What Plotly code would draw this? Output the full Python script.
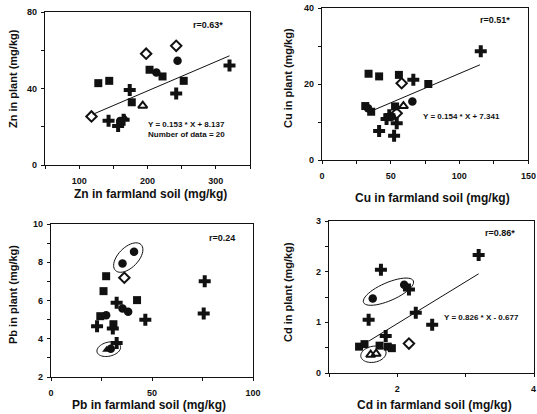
import math
import plotly.graph_objects as go

W, H = 537, 414

# ---------------- data ----------------
# groups: A = filled square, B = filled circle, C = open diamond,
#         D = cross, E = open triangle, F = filled triangle
zn_soil  = [128, 144, 203, 177, 253, 222, 244, 213, 160, 118, 198, 242, 320, 174, 242, 143, 157, 165, 193, 167]
zn_plant = [42.8, 44.0, 49.8, 32.8, 44.0, 46.3, 54.5, 48.4, 23.0, 25.4, 58.2, 62.3, 52.0, 39.2, 37.4, 23.2, 20.4, 23.6, 31.0, 24.5]
zn_group = ["A", "A", "A", "A", "A", "A", "B", "B", "B", "C", "C", "C", "D", "D", "D", "D", "D", "D", "E", "F"]
zn_ring  = [0] * 20

cu_soil  = [33.9, 41.6, 56.0, 77.4, 31.5, 35.8, 53.2, 65.8, 50.8, 33.5, 58.0, 54.4, 66.5, 115.6, 54.4, 41.6, 52.5, 49.0, 59.3, 47.0]
cu_plant = [22.7, 22.0, 22.4, 20.0, 14.2, 12.7, 14.1, 15.4, 11.4, 13.6, 20.2, 12.3, 21.1, 28.6, 9.7, 7.6, 6.4, 11.8, 14.2, 10.8]
cu_group = ["A", "A", "A", "A", "A", "A", "A", "B", "B", "B", "C", "C", "D", "D", "D", "D", "D", "D", "E", "D"]
cu_ring  = [0] * 20

pb_soil  = [35.4, 41.1, 35.4, 38.2, 27.3, 29.6, 36.3, 27.3, 26.0, 42.6, 24.4, 30.9, 76.1, 32.5, 46.7, 22.8, 30.6, 75.6, 32.5, 27.6]
pb_plant = [7.94, 8.55, 5.58, 5.41, 5.23, 3.48, 7.19, 7.27, 6.49, 6.02, 5.18, 4.76, 7.01, 5.88, 5.00, 4.65, 4.53, 5.32, 3.78, 3.43]
pb_group = ["B", "B", "B", "B", "B", "B", "C", "A", "A", "A", "A", "A", "D", "D", "D", "D", "D", "D", "D", "F"]
pb_ring  = [1, 1, 0, 0, 0, 2, 0, 0, 0, 0, 0, 0, 0, 0, 0, 0, 0, 0, 0, 2]

cd_soil  = [3.19, 1.76, 2.17, 1.58, 2.27, 2.51, 1.83, 1.64, 2.10, 2.17, 1.44, 1.52, 1.74, 1.86, 1.92, 1.61, 1.69]
cd_plant = [2.33, 2.04, 1.65, 1.05, 1.19, 0.95, 0.73, 1.47, 1.74, 0.58, 0.52, 0.57, 0.54, 0.52, 0.49, 0.36, 0.38]
cd_group = ["D", "D", "D", "D", "D", "D", "D", "B", "B", "C", "A", "A", "A", "A", "A", "E", "E"]
cd_ring  = [0, 0, 0, 0, 0, 0, 0, 1, 1, 0, 0, 0, 0, 0, 0, 2, 2]

# regression lines: slope, intercept, x-extent of drawn line
zn_fit = (0.153, 8.137, [120, 320])
cu_fit = (0.154, 7.341, [37, 115])
cd_fit = (0.826, -0.677, [1.58, 3.19])

# labels
zn_r, cu_r, pb_r, cd_r = "r=0.63*", "r=0.51*", "r=0.24", "r=0.86*"
zn_eq = "Y = 0.153 * X + 8.137"
zn_n = "Number of data = 20"
cu_eq = "Y = 0.154 * X + 7.341"
cd_eq = "Y = 0.826 * X - 0.677"
zn_xtitle, zn_ytitle = "Zn in farmland soil (mg/kg)", "Zn in plant (mg/kg)"
cu_xtitle, cu_ytitle = "Cu in farmland soil (mg/kg)", "Cu in plant (mg/kg)"
pb_xtitle, pb_ytitle = "Pb in farmland soil (mg/kg)", "Pb in plant (mg/kg)"
cd_xtitle, cd_ytitle = "Cd in farmland soil (mg/kg)", "Cd in plant (mg/kg)"

zn_xt = [50, 100, 150, 200, 250, 300, 350]
zn_xl = ["", "100", "", "200", "", "300", ""]
zn_yt = [0, 20, 40, 60, 80]
zn_yl = ["0", "", "40", "", "80"]
cu_xt = [0, 25, 50, 75, 100, 125, 150]
cu_xl = ["0", "", "50", "", "100", "", ""]
cu_edge_label = "150"
cu_yt = [0, 10, 20, 30, 40]
cu_yl = ["0", "", "20", "", "40"]
pb_xt = [0, 25, 50, 75, 100]
pb_xl = ["0", "", "50", "", "100"]
pb_yt = [2, 3, 4, 5, 6, 7, 8, 9, 10]
pb_yl = ["2", "", "4", "", "6", "", "8", "", "10"]
cd_xt = [1, 2, 3, 4]
cd_xl = ["", "2", "", ""]
cd_edge_label = "4"
cd_yt = [0, 0.5, 1, 1.5, 2, 2.5, 3]
cd_yl = ["0", "", "1", "", "2", "", "3"]

# ---------------- styling ----------------
FONT = "Liberation Sans"
INK = "#111111"
STYLE = {
    "A": dict(symbol="square", size=8, color=INK, line=dict(width=0, color=INK)),
    "B": dict(symbol="circle", size=8.5, color=INK, line=dict(width=0, color=INK)),
    "C": dict(symbol="diamond-open", size=8, color=INK, line=dict(width=2, color=INK)),
    "D": dict(symbol="cross", size=10, color=INK, line=dict(width=0, color=INK)),
    "E": dict(symbol="triangle-up-open", size=8, color=INK, line=dict(width=2, color=INK)),
    "F": dict(symbol="triangle-up", size=8, color=INK, line=dict(width=0, color=INK)),
}

# panel boxes in pixels: left, right, top, bottom
panels = [
    dict(box=(45, 250, 12, 165), xr=(50, 350), yr=(0, 80), x=zn_soil, y=zn_plant, g=zn_group, ring=zn_ring,
         xt=zn_xt, xl=zn_xl, yt=zn_yt, yl=zn_yl, fit=zn_fit),
    dict(box=(322, 528, 8, 160), xr=(0, 150), yr=(0, 40), x=cu_soil, y=cu_plant, g=cu_group, ring=cu_ring,
         xt=cu_xt, xl=cu_xl, yt=cu_yt, yl=cu_yl, fit=cu_fit),
    dict(box=(51, 253, 224, 377), xr=(0, 100), yr=(2, 10), x=pb_soil, y=pb_plant, g=pb_group, ring=pb_ring,
         xt=pb_xt, xl=pb_xl, yt=pb_yt, yl=pb_yl, fit=None),
    dict(box=(329, 534, 221, 373), xr=(1, 4), yr=(0, 3), x=cd_soil, y=cd_plant, g=cd_group, ring=cd_ring,
         xt=cd_xt, xl=cd_xl, yt=cd_yt, yl=cd_yl, fit=cd_fit),
]
ring_minor = {0: {}, 1: {}, 2: {1: 10, 2: 7}, 3: {1: 9, 2: 8}}

fig = go.Figure()
shapes = []
annotations = []

def ring_path(xs, ys, p, b_px, pad=10):
    l, r, t, bt = p["box"]
    sx = (r - l) / (p["xr"][1] - p["xr"][0])
    sy = (bt - t) / (p["yr"][1] - p["yr"][0])
    us = [v * sx for v in xs]
    vs = [v * sy for v in ys]
    cu = sum(us) / len(us)
    cv = sum(vs) / len(vs)
    du = us[-1] - us[0]
    dv = vs[-1] - vs[0]
    half = 0.5 * math.hypot(du, dv)
    ang = math.atan2(dv, du) if half > 0 else 0.0
    a = half + pad
    pts = []
    for k in range(49):
        th = 2 * math.pi * k / 48
        eu = a * math.cos(th)
        ev = b_px * math.sin(th)
        u = cu + eu * math.cos(ang) - ev * math.sin(ang)
        v = cv + eu * math.sin(ang) + ev * math.cos(ang)
        pts.append((u / sx, v / sy))
    return "M " + " L ".join(f"{px:.5f},{py:.5f}" for px, py in pts) + " Z"

for i, p in enumerate(panels):
    n = "" if i == 0 else str(i + 1)
    xa, ya = "x" + n, "y" + n
    l, r, t, b = p["box"]
    for grp in ["D", "A", "B", "C", "E", "F"]:
        idx = [k for k, gg in enumerate(p["g"]) if gg == grp]
        if not idx:
            continue
        fig.add_trace(go.Scatter(
            x=[p["x"][k] for k in idx], y=[p["y"][k] for k in idx],
            mode="markers", marker=STYLE[grp], xaxis=xa, yaxis=ya,
            showlegend=False, hoverinfo="x+y"))
    if p["fit"]:
        s, c, ext = p["fit"]
        fig.add_trace(go.Scatter(x=ext, y=[s * v + c for v in ext], mode="lines",
                                 line=dict(color=INK, width=1), xaxis=xa, yaxis=ya,
                                 showlegend=False, hoverinfo="skip"))
    rings = sorted(set(p["ring"]) - {0})
    for rid in rings:
        idx = [k for k, rr in enumerate(p["ring"]) if rr == rid]
        pts = sorted([(p["x"][k], p["y"][k]) for k in idx])
        path = ring_path([q[0] for q in pts], [q[1] for q in pts], p, ring_minor[i][rid])
        shapes.append(dict(type="path", path=path, xref=xa, yref=ya,
                           line=dict(color=INK, width=1), fillcolor="rgba(0,0,0,0)"))
    axis_common = dict(showgrid=False, zeroline=False, showline=True, mirror=True,
                       linecolor=INK, linewidth=1.2, ticks="outside", ticklen=3,
                       tickcolor=INK, tickwidth=1.2, automargin=False,
                       tickfont=dict(family=FONT, size=9, color=INK, weight="bold"))
    fig.layout["xaxis" + n] = dict(axis_common, domain=[l / W, r / W], range=list(p["xr"]),
                                   anchor=ya, tickmode="array", tickvals=p["xt"], ticktext=p["xl"],
                                   ticklabelstandoff=4)
    fig.layout["yaxis" + n] = dict(axis_common, domain=[1 - b / H, 1 - t / H], range=list(p["yr"]),
                                   anchor=xa, tickmode="array", tickvals=p["yt"], ticktext=p["yl"],
                                   ticklabelstandoff=2)

def txt(s, px, py, size=8, anchor="center", angle=0, bold=True, yanchor="middle"):
    annotations.append(dict(text=s, x=px / W, y=1 - py / H, xref="paper", yref="paper",
                            showarrow=False, xanchor=anchor, yanchor=yanchor, textangle=angle,
                            borderpad=0,
                            font=dict(family=FONT, size=size, color=INK,
                                      weight="bold" if bold else "normal")))

# in-panel texts
txt(zn_r, 208, 25, 9)
txt(zn_eq, 147, 124, 8, "left")
txt(zn_n, 147, 134, 8, "left")
txt(cu_r, 495, 20, 9)
txt(cu_eq, 422, 116, 8, "left")
txt(pb_r, 222, 238, 9)
txt(cd_r, 500, 233, 9)
txt(cd_eq, 443, 317, 8, "left")

# edge tick labels kept inside the page
txt(cu_edge_label, 537, 176, 9, "right")
txt(cd_edge_label, 537, 389, 9, "right")

# axis titles
txt(zn_xtitle, 150, 194, 12)
txt(cu_xtitle, 432, 198, 12)
txt(pb_xtitle, 149, 413, 12, yanchor="bottom")
txt(cd_xtitle, 434, 413, 12, yanchor="bottom")
txt(zn_ytitle, 13, 79, 11, angle=-90)
txt(cu_ytitle, 288, 78, 11, angle=-90)
txt(pb_ytitle, 13, 295, 11, angle=-90)
txt(cd_ytitle, 288, 292, 11, angle=-90)

fig.update_layout(width=W, height=H, margin=dict(l=0, r=0, t=0, b=0),
                  template="none", paper_bgcolor="white", plot_bgcolor="white",
                  shapes=shapes, annotations=annotations, showlegend=False)
fig.write_html("out.html", config={"displayModeBar": False},
               post_script="document.body.style.margin='0px';document.body.style.overflow='hidden';")
